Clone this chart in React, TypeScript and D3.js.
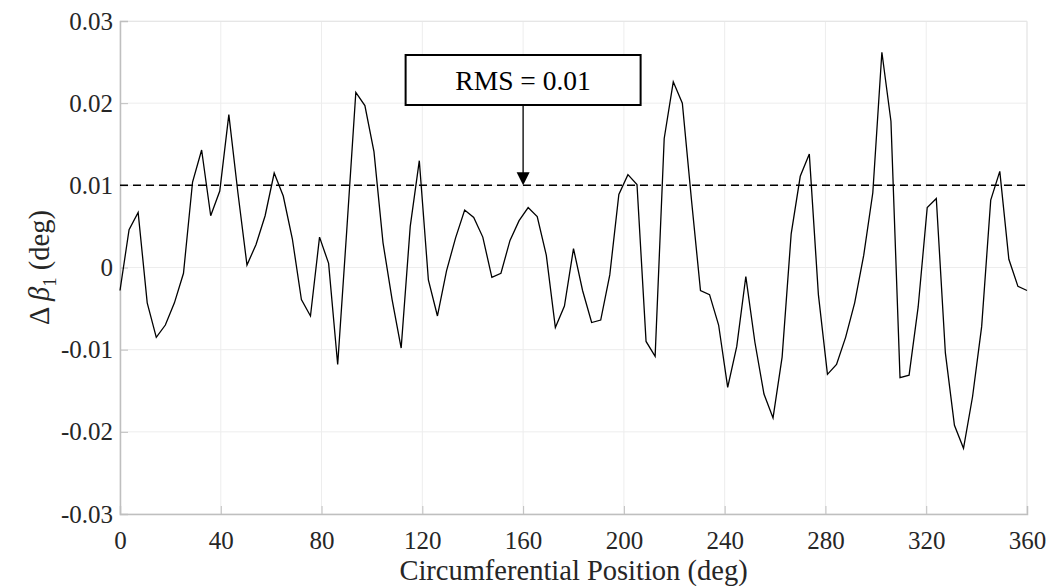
import React, { useEffect, useRef } from 'react';
import * as d3 from 'd3';

// circumferential positions, every 3.6 deg
const positions: number[] = d3.range(0, 360.001, 3.6);

// delta beta_1 (deg)
const deltaBeta: number[] = [
  -0.0028, 0.0046, 0.0067, -0.0043, -0.0085, -0.0070, -0.0043, -0.0007, 0.0104, 0.0143,
  0.0063, 0.0093, 0.0186, 0.0091, 0.0003, 0.0028, 0.0063, 0.0115, 0.0087, 0.0035,
  -0.0039, -0.0059, 0.0037, 0.0005, -0.0118, 0.0045, 0.0213, 0.0197, 0.0141, 0.0030,
  -0.0039, -0.0098, 0.0050, 0.0130, -0.0015, -0.0059, -0.0004, 0.0036, 0.0070, 0.0061,
  0.0037, -0.0012, -0.0007, 0.0033, 0.0057, 0.0073, 0.0062, 0.0015, -0.0073, -0.0047,
  0.0023, -0.0028, -0.0067, -0.0064, -0.0009, 0.0089, 0.0113, 0.0101, -0.0090, -0.0108,
  0.0157, 0.0226, 0.0200, 0.0083, -0.0028, -0.0033, -0.0070, -0.0146, -0.0096, -0.0011,
  -0.0091, -0.0154, -0.0183, -0.0109, 0.0041, 0.0111, 0.0138, -0.0033, -0.0130, -0.0118,
  -0.0085, -0.0043, 0.0015, 0.0091, 0.0262, 0.0178, -0.0134, -0.0131, -0.0048, 0.0073,
  0.0084, -0.0104, -0.0192, -0.0220, -0.0157, -0.0072, 0.0082, 0.0117, 0.0010, -0.0023,
  -0.0028,
];

const xTicks: number[] = [0, 40, 80, 120, 160, 200, 240, 280, 320, 360];
const yTicks: number[] = [-0.03, -0.02, -0.01, 0, 0.01, 0.02, 0.03];
const yTickLabels: string[] = ['-0.03', '-0.02', '-0.01', '0', '0.01', '0.02', '0.03'];

const rmsValue = 0.01;
const rmsLabel = 'RMS = 0.01';
const annotationAt = 160;

const W = 1049;
const H = 586;
const FONT = 'Liberation Serif, Times New Roman, serif';

export default function App() {
  const ref = useRef<SVGSVGElement>(null);

  useEffect(() => {
    const margin = { top: 21, right: 22, bottom: 72, left: 120 };
    const width = W - margin.left - margin.right;
    const height = H - margin.top - margin.bottom;

    const root = d3.select(ref.current);
    root.selectAll('*').remove();

    const svg = root
      .append('g')
      .attr('transform', 'translate(' + margin.left + ',' + margin.top + ')');

    const x = d3.scaleLinear().domain([0, 360]).range([0, width]);
    const y = d3.scaleLinear().domain([-0.03, 0.03]).range([height, 0]);

    // grid
    svg.append('g')
      .selectAll('line')
      .data(xTicks)
      .enter()
      .append('line')
      .attr('x1', d => x(d)).attr('x2', d => x(d))
      .attr('y1', 0).attr('y2', height)
      .attr('stroke', '#ededed').attr('stroke-width', 1);
    svg.append('g')
      .selectAll('line')
      .data(yTicks)
      .enter()
      .append('line')
      .attr('x1', 0).attr('x2', width)
      .attr('y1', d => y(d)).attr('y2', d => y(d))
      .attr('stroke', '#ededed').attr('stroke-width', 1);

    // top / right box
    svg.append('path')
      .attr('d', `M0,0.5H${width}V${height}`)
      .attr('fill', 'none')
      .attr('stroke', '#e6e6e6');

    // x axis
    const xAxis = svg.append('g')
      .attr('transform', 'translate(0,' + height + ')')
      .call(d3.axisBottom(x).tickValues(xTicks).tickSize(-8).tickPadding(17).tickFormat(d3.format('d')));
    xAxis.attr('font-family', FONT).attr('font-size', 25);
    xAxis.select('.domain').attr('stroke', '#bfbfbf').attr('stroke-width', 1.5);
    xAxis.selectAll('.tick line').attr('stroke', '#bfbfbf');
    xAxis.selectAll('.tick text')
      .attr('font-family', FONT).attr('font-size', 25).attr('fill', '#262626');

    // y axis
    const yAxis = svg.append('g')
      .call(d3.axisLeft(y).tickValues(yTicks).tickSize(-8).tickPadding(7)
        .tickFormat((d, i) => yTickLabels[i]));
    yAxis.attr('font-family', FONT).attr('font-size', 25);
    yAxis.select('.domain').attr('stroke', '#bfbfbf').attr('stroke-width', 1.5);
    yAxis.selectAll('.tick line').attr('stroke', '#bfbfbf');
    yAxis.selectAll('.tick text')
      .attr('font-family', FONT).attr('font-size', 25).attr('fill', '#262626');

    // RMS dashed line
    svg.append('line')
      .attr('x1', 0).attr('x2', width)
      .attr('y1', y(rmsValue)).attr('y2', y(rmsValue))
      .attr('stroke', '#000').attr('stroke-width', 1.5)
      .attr('stroke-dasharray', '8,5');

    // data line
    const line = d3.line<number>()
      .x((d, i) => x(positions[i]))
      .y(d => y(d));
    svg.append('path')
      .datum(deltaBeta)
      .attr('d', line)
      .attr('fill', 'none')
      .attr('stroke', '#000')
      .attr('stroke-width', 1.3);

    // annotation
    const ax = x(annotationAt);
    const ay = y(rmsValue);
    const boxW = 235, boxH = 50, boxTop = 34;
    svg.append('rect')
      .attr('x', ax - boxW / 2).attr('y', boxTop)
      .attr('width', boxW).attr('height', boxH)
      .attr('fill', '#fff').attr('stroke', '#000').attr('stroke-width', 2);
    svg.append('text')
      .attr('x', ax).attr('y', boxTop + boxH / 2 + 9.5)
      .attr('text-anchor', 'middle')
      .attr('font-family', FONT).attr('font-size', 27.5)
      .text(rmsLabel);
    svg.append('line')
      .attr('x1', ax).attr('x2', ax)
      .attr('y1', boxTop + boxH).attr('y2', ay - 12)
      .attr('stroke', '#000').attr('stroke-width', 1.3);
    svg.append('path')
      .attr('d', `M${ax - 6.5},${ay - 13}L${ax + 6.5},${ay - 13}L${ax},${ay}Z`)
      .attr('fill', '#000');

    // axis labels
    svg.append('text')
      .attr('x', width / 2)
      .attr('y', height + 66)
      .attr('text-anchor', 'middle')
      .attr('font-family', FONT).attr('font-size', 28.5).attr('fill', '#262626')
      .text('Circumferential Position (deg)');

    const yl = svg.append('text')
      .attr('transform', `translate(${-71},${height / 2}) rotate(-90)`)
      .attr('text-anchor', 'middle')
      .attr('font-family', FONT).attr('font-size', 28.5).attr('fill', '#262626');
    yl.append('tspan').text('\u0394 ');
    yl.append('tspan').attr('font-style', 'italic').text('\u03B2');
    yl.append('tspan').attr('font-size', 19).attr('dy', 7).text('1');
    yl.append('tspan').attr('dy', -7).text(' (deg)');
  }, []);

  return (
    <svg
      ref={ref}
      width={W}
      height={H}
      style={{ position: 'absolute', left: 0, top: 0, background: '#fff' }}
    />
  );
}
